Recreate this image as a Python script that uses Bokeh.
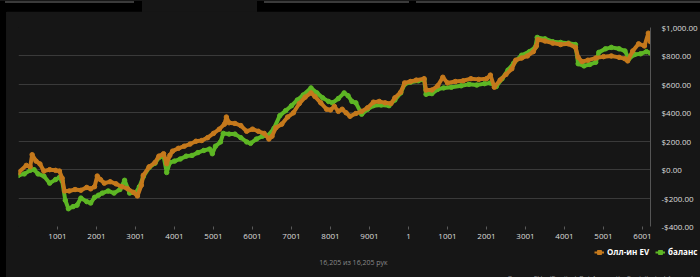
from bokeh.plotting import figure
from bokeh.models import Range1d, FixedTicker, Legend, LegendItem, Label, Div, GlobalInlineStyleSheet
from bokeh.layouts import column, row
from bokeh.embed import file_html
from bokeh.resources import INLINE

# ---- data (hand index, value in $) ----
ev_hands = [0, 200, 300, 350, 450, 550, 650, 800, 950, 1050, 1120, 1180, 1300, 1450, 1600,
            1750, 1850, 1950, 2020, 2100, 2200, 2350, 2500, 2650, 2800, 2950, 3050, 3150,
            3200, 3350, 3500, 3600, 3720, 3800, 3880, 3950, 4100, 4250, 4400, 4550, 4700,
            4850, 5000, 5150, 5280, 5330, 5400, 5550, 5700, 5850, 6000, 6150, 6300, 6420,
            6500, 6600, 6750, 6900, 7050, 7200, 7350, 7500, 7600, 7750, 7900, 8000, 8100,
            8200, 8300, 8400, 8500, 8650, 8800, 8950, 9100, 9250, 9400, 9550, 9650, 9800,
            9900, 10050, 10200, 10400, 10450, 10600, 10750, 10880, 11000, 11200, 11400,
            11600, 11800, 12000, 12100, 12200, 12350, 12500, 12650, 12750, 12900, 13050,
            13200, 13280, 13320, 13500, 13700, 13900, 14100, 14280, 14350, 14450, 14600,
            14800, 15000, 15200, 15400, 15550, 15620, 15750, 15900, 16050, 16150, 16205]
ev_values = [-20, 30, 20, 105, 60, 40, -10, 0, -5, -10, -60, -150, -150, -140, -145,
             -125, -135, -120, -45, -70, -95, -85, -100, -120, -135, -160, -185, -110,
             -40, 20, 50, 95, 112, 42, 100, 130, 150, 165, 180, 200, 205,
             225, 255, 285, 320, 370, 330, 325, 310, 270, 285, 270, 255, 215,
             235, 295, 320, 370, 400, 465, 510, 540, 515, 470, 425, 420, 445,
             410, 425, 400, 375, 395, 410, 435, 475, 480, 470, 465, 505, 545,
             610, 620, 630, 640, 560, 560, 590, 650, 610, 620, 625,
             640, 635, 640, 665, 580, 630, 670, 710, 770, 785, 800,
             830, 870, 915, 905, 890, 880, 885, 860, 790, 760, 770,
             785, 795, 800, 790, 780, 765, 835, 885, 870, 960, 900]

bal_hands = [0, 150, 300, 400, 500, 650, 800, 950, 1050, 1120, 1200, 1280, 1400, 1500,
             1600, 1750, 1850, 1950, 2050, 2150, 2300, 2450, 2600, 2720, 2850, 3000, 3100,
             3200, 3350, 3500, 3600, 3720, 3800, 3880, 4000, 4150, 4300, 4450, 4600, 4750,
             4900, 4970, 5050, 5180, 5250, 5400, 5550, 5700, 5850, 5950, 6100, 6250, 6400,
             6550, 6700, 6850, 7000, 7150, 7300, 7500, 7650, 7800, 7950, 8050, 8200, 8350,
             8450, 8550, 8650, 8800, 8950, 9100, 9300, 9500, 9650, 9800, 9900, 10050, 10250,
             10400, 10450, 10600, 10750, 10900, 11100, 11350, 11550, 11750, 11950, 12100,
             12250, 12400, 12550, 12700, 12900, 13100, 13250, 13300, 13500, 13700, 13900,
             14100, 14280, 14350, 14500, 14650, 14800, 14880, 15050, 15200, 15400, 15550,
             15650, 15800, 15950, 16100, 16205]
bal_values = [-40, -30, -5, 0, -30, -45, -95, -70, -55, -80, -215, -275, -260, -250,
              -200, -225, -235, -195, -180, -165, -150, -165, -140, -75, -165, -165, -120,
              -50, 15, 45, 85, 95, -20, 50, 60, 75, 95, 100, 120, 135,
              145, 112, 165, 195, 255, 250, 250, 225, 195, 185, 215, 235, 240,
              290, 380, 415, 450, 490, 525, 575, 540, 505, 480, 470, 500, 540,
              520, 480, 470, 390, 425, 450, 455, 450, 490, 540, 600, 615, 625,
              635, 530, 535, 565, 575, 580, 590, 600, 595, 605, 610,
              585, 640, 700, 750, 805, 830, 860, 930, 920, 900, 895,
              890, 880, 745, 730, 740, 755, 825, 850, 860, 850, 835,
              780, 810, 815, 830, 820]

x_tick_values = [1000, 2000, 3000, 4000, 5000, 6000, 7000, 8000, 9000, 10000,
                 11000, 12000, 13000, 14000, 15000, 16000]
x_tick_labels = ["1001", "2001", "3001", "4001", "5001", "6001", "7001", "8001", "9001", "1",
                 "1001", "2001", "3001", "4001", "5001", "6001"]
y_tick_values = [-400, -200, 0, 200, 400, 600, 800, 1000]
y_tick_labels = ["-$400.00", "-$200.00", "$0.00", "$200.00", "$400.00", "$600.00",
                 "$800.00", "$1,000.00"]

series_names = ["Олл-ин EV", "баланс"]
count_text = "16,205 из 16,205 рук"
formula_text = "Олл-ин EV = (Equity * Pot Amount) - Contributed Amount"

# ---- styling ----
BG = "#161616"
ORANGE = "#c5791c"
GREEN = "#5db624"
FONT = "Open Sans"

p = figure(width=694, height=234, output_backend="svg", toolbar_location=None,
           x_range=Range1d(0, 16205), y_range=Range1d(-400, 1000),
           y_axis_location="right", margin=0,
           min_border_left=12, min_border_right=47, min_border_top=16, min_border_bottom=19)
p.background_fill_color = BG
p.border_fill_color = BG
p.outline_line_color = None

p.xgrid.grid_line_color = None
p.ygrid.grid_line_color = "#3a3a3a"
p.ygrid.grid_line_width = 1
p.ygrid.ticker = FixedTicker(ticks=y_tick_values)

p.xaxis.ticker = FixedTicker(ticks=x_tick_values)
p.xaxis.major_label_overrides = dict(zip(x_tick_values, x_tick_labels))
p.xaxis.axis_line_color = None
p.xaxis.major_tick_line_color = "#5a5a5a"
p.xaxis.major_tick_out = 3
p.xaxis.major_tick_in = 0
p.xaxis.minor_tick_line_color = None
p.xaxis.major_label_text_color = "#dddddd"
p.xaxis.major_label_text_font = FONT
p.xaxis.major_label_text_font_size = "8px"
p.xaxis.major_label_standoff = 4

p.yaxis.ticker = FixedTicker(ticks=y_tick_values)
p.yaxis.major_label_overrides = dict(zip(y_tick_values, y_tick_labels))
p.yaxis.axis_line_color = "#555555"
p.yaxis.major_tick_line_color = None
p.yaxis.minor_tick_line_color = None
p.yaxis.major_label_text_color = "#dddddd"
p.yaxis.major_label_text_font = FONT
p.yaxis.major_label_text_font_size = "8px"
p.yaxis.major_label_standoff = 5

p.line(bal_hands, bal_values, line_color=GREEN, line_width=4)
p.scatter(bal_hands, bal_values, size=4.5, color=GREEN)
p.line(ev_hands, ev_values, line_color=ORANGE, line_width=4)
p.scatter(ev_hands, ev_values, size=4.5, color=ORANGE)

# ---- footer strip with legend and notes (separate root, not frame-aligned) ----
# the same series are plotted here only to give the legend its renderers;
# they fall outside this strip's ranges, so only the legend shows.
p2 = figure(width=694, height=32, output_backend="svg", toolbar_location=None,
            x_axis_type=None, y_axis_type=None, margin=0,
            x_range=Range1d(-1, 0), y_range=Range1d(-3000, -2000),
            min_border_left=0, min_border_right=0, min_border_top=0, min_border_bottom=0)
p2.background_fill_color = BG
p2.border_fill_color = BG
p2.outline_line_color = None
p2.grid.grid_line_color = None

el = p2.line(ev_hands, ev_values, line_color=ORANGE, line_width=2)
es = p2.scatter(ev_hands, ev_values, marker="square", size=5, color=ORANGE)
bl = p2.line(bal_hands, bal_values, line_color=GREEN, line_width=2)
bs = p2.scatter(bal_hands, bal_values, marker="square", size=5, color=GREEN)

legend = Legend(items=[LegendItem(label=series_names[0], renderers=[el, es]),
                       LegendItem(label=series_names[1], renderers=[bl, bs])],
                orientation="horizontal", location=(588, 20),
                background_fill_alpha=0, border_line_color=None,
                padding=0, margin=0, spacing=6, label_standoff=3,
                glyph_width=10, glyph_height=10, label_height=10,
                label_text_font=FONT, label_text_font_size="8px",
                label_text_font_style="bold", label_text_color="#ffffff")
p2.add_layout(legend, "center")

p2.add_layout(Label(x=347, y=15, x_units="screen", y_units="screen", text=count_text,
                    text_align="center", text_baseline="middle", text_color="#8a8a8a",
                    text_font=FONT, text_font_size="7px"))
p2.add_layout(Label(x=687, y=4, x_units="screen", y_units="screen", text=formula_text,
                    text_align="right", text_baseline="top", text_color="#8a8a8a",
                    text_font=FONT, text_font_size="7px"))

top = Div(width=700, height=11, margin=0, text=(
    '<div style="position:relative;width:700px;height:11px;background:#000;overflow:hidden">'
    '<div style="position:absolute;left:142px;top:0;width:115px;height:11px;background:#161616"></div>'
    '<div style="position:absolute;left:5px;top:0;width:129px;height:2px;background:#3a3a3a"></div>'
    '<div style="position:absolute;left:264px;top:0;width:145px;height:2px;background:#3a3a3a"></div>'
    '<div style="position:absolute;left:416px;top:0;width:284px;height:2px;background:#3a3a3a"></div>'
    '</div>'))
left = Div(width=6, height=234, margin=0,
           text='<div style="width:6px;height:234px;background:#000"></div>')
left2 = Div(width=6, height=32, margin=0,
            text='<div style="width:6px;height:32px;background:#000"></div>')

page_css = GlobalInlineStyleSheet(css="html, body { margin: 0; padding: 0; background: #161616; }")
root1 = column(top, row(left, p, spacing=0, margin=0), spacing=0, margin=0,
               stylesheets=[page_css])
root2 = row(left2, p2, spacing=0, margin=0)

open("out.html", "w").write(file_html([root1, root2], INLINE))
